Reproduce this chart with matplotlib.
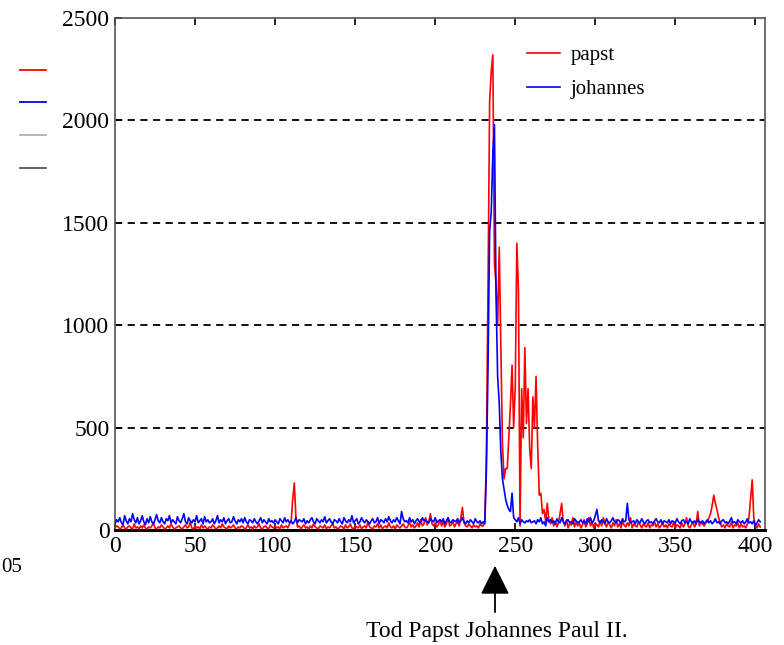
import numpy as np
import matplotlib
matplotlib.use("Agg")
import matplotlib.pyplot as plt
from matplotlib.lines import Line2D

plt.rcParams['font.family'] = ['Liberation Serif', 'DejaVu Serif']

# ---- data (daily counts) ----
papst = [
    10,20,15,5,10,25,10,5,15,20,10,5,30,10,15,5,20,10,25,10,
    5,15,10,20,35,10,5,15,10,25,15,5,10,20,10,30,15,5,10,15,
    20,10,5,15,25,10,15,40,10,5,20,10,15,5,25,10,20,10,5,15,
    10,25,15,5,10,20,10,30,15,10,5,20,10,15,25,10,5,15,10,20,
    15,5,10,25,10,15,5,20,10,15,30,10,5,15,20,10,5,25,15,10,
    20,10,15,5,25,10,15,20,10,30,40,150,230,60,15,20,5,15,25,10,
    15,5,20,10,30,15,10,5,20,15,10,25,5,15,10,20,30,10,15,5,
    10,20,15,5,25,10,15,30,10,5,20,15,10,25,5,15,20,10,40,15,
    10,5,20,15,30,10,25,5,15,20,10,35,15,10,20,5,25,15,10,20,
    30,15,10,20,40,15,25,10,20,35,15,50,20,30,60,25,40,80,30,20,
    35,15,25,50,20,40,15,30,60,20,25,45,15,30,40,20,60,110,35,20,
    15,30,20,10,25,15,20,10,30,20,
    20,40,
    380,1200,2090,2240,2320,1300,1200,1000,1380,900,420,250,300,
    300,450,610,805,500,700,1400,1170,20,690,450,890,520,690,400,300,
    650,500,750,415,170,180,80,100,40,130,50,
    30,60,20,40,15,35,80,130,40,20,50,10,30,25,60,15,40,20,35,10,
    25,50,15,30,60,20,40,10,35,25,15,45,20,60,30,15,40,25,10,35,
    20,50,15,30,10,40,25,15,35,20,60,10,30,20,15,40,25,10,30,20,
    15,35,10,25,20,40,15,30,10,20,35,15,25,10,30,20,15,40,10,25,
    20,10,35,15,30,60,20,10,25,40,15,30,90,20,40,30,20,35,40,60,
    80,120,170,130,100,60,35,15,25,10,30,20,15,40,10,25,20,35,10,30,
    15,20,10,30,60,150,245,60,20,10,30,15,
]

johannes = [
    30,50,40,60,35,25,70,45,30,55,40,80,50,35,60,30,45,70,40,25,
    55,35,65,40,30,50,75,45,35,60,40,30,55,45,70,35,50,40,30,65,
    45,35,55,80,40,30,60,45,35,50,40,70,35,45,55,30,65,40,50,35,
    40,55,30,45,70,35,50,40,60,30,45,55,35,40,65,45,30,50,40,55,
    35,60,40,30,50,45,35,55,40,30,45,60,35,50,40,30,55,40,45,35,
    50,40,30,55,45,35,60,40,50,35,45,30,40,60,35,50,45,40,55,30,
    45,35,50,60,40,30,55,45,35,50,40,65,35,45,55,40,30,50,45,35,
    55,40,30,60,45,35,50,40,70,35,45,55,30,40,60,45,35,50,40,30,
    45,55,35,40,60,30,50,45,35,55,40,65,45,35,50,40,60,45,30,90,
    55,40,45,35,60,40,50,30,45,55,40,35,60,45,50,40,35,55,45,40,
    60,35,45,50,40,55,30,45,60,40,35,50,45,40,55,35,45,60,40,30,
    45,35,50,40,30,55,40,35,45,30,
    40,30,
    300,800,1460,1550,1840,1980,1150,750,620,380,
    250,200,150,120,100,90,180,60,50,40,
    60,30,50,40,35,45,40,50,35,40,
    45,30,50,40,60,30,40,20,60,40,
    50,35,45,30,55,40,35,60,40,30,45,50,35,40,30,55,45,35,40,50,
    35,45,30,55,40,60,35,45,70,100,45,35,50,40,30,55,40,35,45,60,
    40,35,50,45,30,55,40,45,130,50,35,40,45,30,50,40,35,55,40,30,
    45,50,35,40,30,45,55,40,35,50,30,45,40,35,50,30,45,40,35,55,
    40,30,45,50,35,40,30,55,40,35,45,30,50,40,35,45,30,40,50,35,
    45,30,40,55,35,40,30,45,50,35,40,30,45,60,35,40,30,50,40,35,
    45,30,40,55,35,40,30,45,20,35,50,40,
]

series_labels = ["papst", "johannes"]
x_ticks = [0, 50, 100, 150, 200, 250, 300, 350, 400]
y_ticks = [0, 500, 1000, 1500, 2000, 2500]
annotation_text = "Tod Papst Johannes Paul II."

W, H = 784, 645
fig = plt.figure(figsize=(W / 100, H / 100), dpi=100)
ax = fig.add_axes([115 / W, 1 - 530 / H, (765 - 115) / W, (530 - 18) / H])

x_p = np.arange(len(papst))
x_j = np.arange(len(johannes))
ax.plot(x_p, papst, color='#ff0000', lw=1.2, label=series_labels[0], zorder=3)
ax.plot(x_j, johannes, color='#0000ff', lw=1.2, label=series_labels[1], zorder=4)

ax.set_xlim(0, 406)
ax.set_ylim(0, 2500)
ax.set_xticks(x_ticks)
ax.set_yticks(y_ticks)
ax.tick_params(axis='both', direction='in', length=5, width=1.2, labelsize=17,
               top=True, right=False, pad=4)
for t in y_ticks[1:-1]:
    ax.axhline(t, color='black', lw=1.3, ls=(0, (4, 3)), zorder=2)

for s in ['top', 'left', 'right']:
    ax.spines[s].set_color('#555555')
    ax.spines[s].set_linewidth(1.2)
ax.spines['bottom'].set_color('black')
ax.spines['bottom'].set_linewidth(2.2)

leg = ax.legend(loc='upper left', bbox_to_anchor=(0.605, 0.983), frameon=False,
                fontsize=15, handlelength=1.6, handletextpad=0.5, labelspacing=0.7)

# arrow + annotation under the axis
fig.add_artist(matplotlib.patches.FancyArrowPatch(
    (495 / W, 1 - 615 / H), (495 / W, 1 - 563 / H), transform=fig.transFigure,
    arrowstyle='-|>,head_length=0.9,head_width=0.45', mutation_scale=20,
    color='black', lw=1.3))
fig.text(497 / W, 1 - 632 / H, annotation_text, ha='center', va='center', fontsize=17)

# remnants at the left edge of the crop
for y, c in [(70, '#ff0000'), (102, '#0000ff'), (135, '#b0b0b0'), (168, '#555555')]:
    fig.add_artist(Line2D([20 / W, 46 / W], [1 - y / H, 1 - y / H], color=c, lw=1.3,
                          transform=fig.transFigure))
fig.text(1 / W, 1 - 567 / H, "05", ha='left', va='center', fontsize=15)

fig.savefig("out.png", dpi=100)
